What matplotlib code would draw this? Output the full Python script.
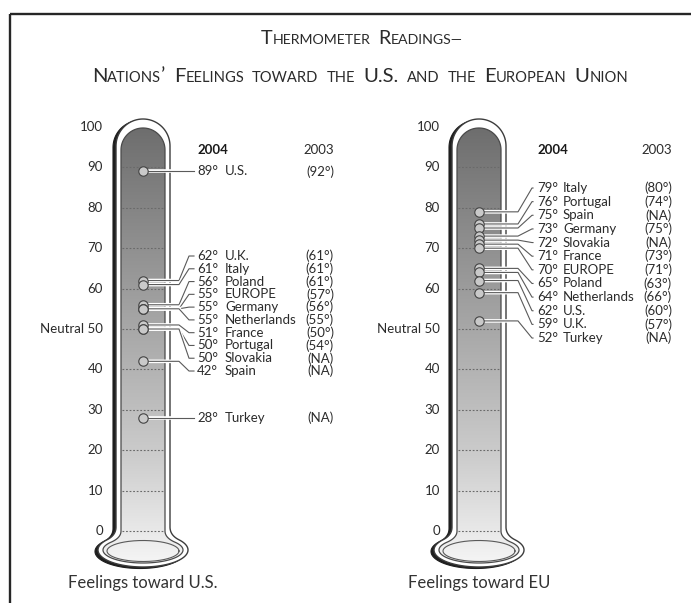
import numpy as np
import matplotlib
matplotlib.use('Agg')
import matplotlib.pyplot as plt
from matplotlib.path import Path
from matplotlib.patches import PathPatch
import matplotlib.patheffects as pe

plt.rcParams['font.family'] = ['Lato', 'DejaVu Sans']

# ---------------- data ----------------
us_countries = ['U.S.', 'U.K.', 'Italy', 'Poland', 'EUROPE', 'Germany', 'Netherlands',
                'France', 'Portugal', 'Slovakia', 'Spain', 'Turkey']
us_2004 = [89, 62, 61, 56, 55, 55, 55, 51, 50, 50, 42, 28]
us_2003 = ['(92°)', '(61°)', '(61°)', '(61°)', '(57°)', '(56°)', '(55°)', '(50°)', '(54°)',
           '(NA)', '(NA)', '(NA)']

eu_countries = ['Italy', 'Portugal', 'Spain', 'Germany', 'Slovakia', 'France', 'EUROPE',
                'Poland', 'Netherlands', 'U.S.', 'U.K.', 'Turkey']
eu_2004 = [79, 76, 75, 73, 72, 71, 70, 65, 64, 62, 59, 52]
eu_2003 = ['(80°)', '(74°)', '(NA)', '(75°)', '(NA)', '(73°)', '(71°)', '(63°)', '(66°)',
           '(60°)', '(57°)', '(NA)']

tick_values = [0, 10, 20, 30, 40, 50, 60, 70, 80, 90, 100]
tick_labels = ['0', '10', '20', '30', '40', 'Neutral 50', '60', '70', '80', '90', '100']
grid_values = [0, 10, 20, 30, 40, 50, 60, 70, 80, 90]

title_1 = 'Thermometer Readings—'
title_2 = 'Nations’ Feelings toward the U.S. and the European Union'
captions = ['Feelings toward U.S.', 'Feelings toward EU']
headers = ['2004', '2003']

# ---------------- layout ----------------
W, H = 691, 603
ZERO_PX, K = 531.0, 4.04     # pixel row of 0 degrees, pixels per degree


def deg(ypx):
    return (ZERO_PX - np.asarray(ypx, dtype=float)) / K


fig = plt.figure(figsize=(W / 100, H / 100), dpi=100)
ax = fig.add_axes([0, 0, 1, 1])
ax.set_xlim(0, W)
ax.set_ylim(deg(H), deg(0))
ax.set_autoscale_on(False)
ax.axis('off')

TXT = '#2b2b2b'


def bez(p0, p1, p2, n=20):
    t = np.linspace(0, 1, n)[:, None]
    p0, p1, p2 = map(np.array, (p0, p1, p2))
    return (1 - t) ** 2 * p0 + 2 * (1 - t) * t * p1 + t ** 2 * p2


def thermo_pts(c, hw, top, cy, a, b, ys, cosp=0.8):
    sinp = np.sqrt(1 - cosp ** 2)
    yc = top + hw
    pts = [np.array([[c - hw, ys], [c - hw, yc]])]
    t = np.linspace(np.pi, 0, 50)
    pts.append(np.column_stack([c + hw * np.cos(t), yc - hw * np.sin(t)]))
    P = (c + a * cosp, cy - b * sinp)
    s = (a * cosp - hw) / (a * sinp)
    ctrl_y = P[1] - s * b * cosp
    pts.append(bez((c + hw, ys), (c + hw, ctrl_y), P))
    ph0 = np.arccos(cosp)
    ph = np.linspace(ph0, -np.pi - ph0, 120)
    pts.append(np.column_stack([c + a * np.cos(ph), cy - b * np.sin(ph)]))
    pts.append(bez((c - a * cosp, P[1]), (c - hw, ctrl_y), (c - hw, ys)))
    xy = np.vstack(pts)
    return xy


def to_path(xy, dx=0, dy=0):
    v = np.column_stack([xy[:, 0] + dx, deg(xy[:, 1] + dy)])
    v = np.vstack([v, v[:1]])
    codes = [Path.MOVETO] + [Path.LINETO] * (len(v) - 2) + [Path.CLOSEPOLY]
    return Path(v, codes)


def gradient_cmap():
    top = np.array([0.43, 0.43, 0.43])
    mid = np.array([0.80, 0.80, 0.80])
    bot = np.array([0.965, 0.965, 0.965])
    n = 256
    f = np.linspace(0, 1, n)
    col = np.where(f[:, None] < 0.75,
                   top + (mid - top) * (f[:, None] / 0.75),
                   mid + (bot - mid) * ((f[:, None] - 0.75) / 0.25))
    return col[:, None, :]


def draw_thermometer(c):
    TOP_O, TOP_I = 119, 128
    CY = 550
    outer = thermo_pts(c, 27, TOP_O, CY, 45, 17, 527)
    inner = thermo_pts(c, 22, TOP_I, CY, 40, 13, 531)
    # shadow
    ax.add_patch(PathPatch(to_path(outer, -3, 1.5), facecolor='#1e1e1e',
                           edgecolor='#1e1e1e', lw=0.8, zorder=1))
    ax.add_patch(PathPatch(to_path(outer), facecolor='white', edgecolor='#3c3c3c',
                           lw=1.0, zorder=2))
    ip = PathPatch(to_path(inner), facecolor='none', edgecolor='#4a4a4a', lw=0.9, zorder=4)
    ax.add_patch(ip)
    im = ax.imshow(gradient_cmap(), extent=[c - 46, c + 46, deg(CY + 16), deg(TOP_I - 1)],
                   aspect='auto', origin='upper', interpolation='bilinear', zorder=3)
    im.set_clip_path(ip)
    # inner bulb ellipse outline
    ph = np.linspace(0, 2 * np.pi, 200)
    ax.plot(c + 36 * np.cos(ph), deg(CY + 1 - 10.5 * np.sin(ph)), color='#5a5a5a',
            lw=0.8, zorder=4)
    # dotted grid lines in the tube
    for g in grid_values:
        ax.plot([c - 21, c + 21], [g, g], color='#6a6a6a', lw=0.8,
                ls=(0, (1.6, 1.6)), zorder=4)


def draw_panel(c, countries, v04, v03, label_y, tick_x, bend_x, diag, end_x,
               deg_x, name_x, col03_x, caption):
    draw_thermometer(c)
    for tv, tl in zip(tick_values, tick_labels):
        ax.text(tick_x, tv, tl, ha='right', va='center', fontsize=9.5, color=TXT)
    halo = [pe.withStroke(linewidth=2.6, foreground='white')]
    for v, ly in zip(v04, label_y):
        bx = bend_x if abs(ly - v) > 0.01 else end_x
        ax.plot([c, bx, bx + diag if bx != end_x else end_x, end_x], [v, v, ly, ly],
                color='#5a5a5a', lw=0.8, zorder=5, path_effects=halo,
                solid_joinstyle='round')
    ax.scatter([c] * len(v04), v04, s=46, facecolor='#c9c9c9', edgecolor='#444444',
               linewidth=0.8, zorder=6)
    for name, v, s03, ly in zip(countries, v04, v03, label_y):
        ax.text(deg_x, ly, f'{v}°', ha='left', va='center', fontsize=9.5, color=TXT)
        ax.text(name_x, ly, name, ha='left', va='center', fontsize=9.5, color=TXT)
        ax.text(col03_x, ly, s03, ha='right', va='center', fontsize=9.5, color=TXT)
    ax.text(deg_x, deg(150), headers[0], ha='left', va='center', fontsize=9.5,
            fontweight='bold', color='#1a1a1a')
    ax.text(col03_x, deg(150), headers[1], ha='right', va='center', fontsize=9.5,
            color=TXT)
    ax.text(c, deg(583), caption, ha='center', va='center', fontsize=12, color='#333333')


# label rows
left_rows = [us_2004[0]] + list(deg(256 + 12.78 * np.arange(10))) + [us_2004[-1]]
right_rows = list(deg(188 + 13.64 * np.arange(12)))

draw_panel(143, us_countries, us_2004, us_2003, left_rows, 103, 179, 10, 194,
           197, 225, 334, captions[0])
draw_panel(479, eu_countries, eu_2004, eu_2003, right_rows, 440, 518, 14, 533,
           537, 563, 672, captions[1])


# ---------------- small caps title ----------------
def smallcaps(text, xc, ybase_px, big, small, space_em=0.4, color='#2b2b2b'):
    renderer = fig.canvas.get_renderer()
    words = text.split(' ')
    x = 0.0
    objs = []
    space = big * 100 / 72 * space_em
    for wi, w in enumerate(words):
        runs = []
        for ch in w:
            sz = small if (ch.islower() or ch == '—') else big
            s = ch.upper() if ch.islower() else ch
            if runs and runs[-1][1] == sz:
                runs[-1][0] += s
            else:
                runs.append([s, sz])
        if wi > 0:
            x += space
        for s, sz in runs:
            t = ax.text(x, deg(ybase_px), s, fontsize=sz, ha='left', va='baseline',
                        color=color)
            wdt = t.get_window_extent(renderer).width
            objs.append((t, x))
            x += wdt
    for t, x0 in objs:
        t.set_x(xc - x / 2 + x0)


smallcaps(title_1, 362, 44, 14.2, 10.2)
smallcaps(title_2, 360, 81.5, 14.6, 10.6)

# frame
ax.plot([10, W + 5], [deg(13.5), deg(13.5)], color='#262626', lw=1.7, solid_capstyle='butt')
ax.plot([10, 10], [deg(13.5), deg(H + 5)], color='#262626', lw=1.7, solid_capstyle='butt')

fig.savefig('out.png', dpi=100)
